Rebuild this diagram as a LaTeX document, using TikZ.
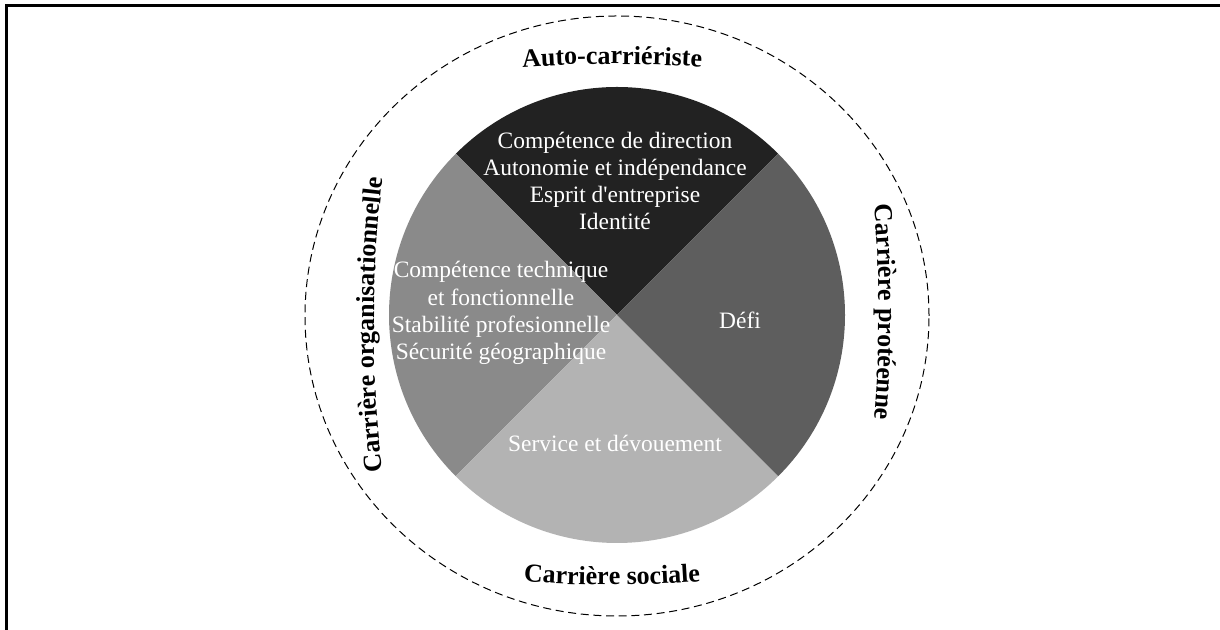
\documentclass[tikz,border=0pt]{standalone}
\usepackage{fontspec}
\setmainfont{Liberation Serif}
\usetikzlibrary{decorations.text}
\definecolor{secTop}{HTML}{222222}
\definecolor{secRight}{HTML}{5E5E5E}
\definecolor{secLeft}{HTML}{8A8A8A}
\definecolor{secBottom}{HTML}{B3B3B3}
\tikzset{
  sectortext/.style={text=white, align=center, inner sep=0pt,
    font=\fontsize{17.6}{20.4}\selectfont},
  arclabel/.style={decorate, decoration={text along path, text align=center,
    text={|\fontsize{19.5}{22}\selectfont\bfseries|#1}}},
  outerring/.style={line width=0.75pt, dash pattern=on 6pt off 3.5pt}
}
\begin{document}
\begin{tikzpicture}[x=0.75pt,y=0.75pt]
\useasboundingbox (0,0) rectangle (1220,630);
\fill[white] (0,0) rectangle (1220,630);
% frame
\draw[line width=2.25pt] (6.5,0) -- (6.5,624.5) -- (1220,624.5);
% outer dashed ring
\draw[outerring] (617,314) ellipse[x radius=312, y radius=300];
% pie sectors
\coordinate (c) at (617,315);
\fill[secTop] (c) -- ++(45:228) arc[start angle=45, end angle=135, radius=228] -- cycle;
\fill[secLeft] (c) -- ++(135:228) arc[start angle=135, end angle=225, radius=228] -- cycle;
\fill[secBottom] (c) -- ++(225:228) arc[start angle=225, end angle=315, radius=228] -- cycle;
\fill[secRight] (c) -- ++(315:228) arc[start angle=315, end angle=405, radius=228] -- cycle;
% sector texts
\node[sectortext] (top) at (615,449) {Compétence de direction\\Autonomie et indépendance\\Esprit d\textquotesingle entreprise\\Identité};
\node[sectortext] (left) at (501,317) {Compétence technique\\et fonctionnelle\\Stabilité profesionnelle\\Sécurité géographique};
\node[sectortext] (right) at (740,310) {Défi};
\node[sectortext] (bottom) at (615,187) {Service et dévouement};
% curved ring labels
\path[arclabel={Auto-carriériste}] (612,-634) ++(98:1200) arc[start angle=98, end angle=82, radius=1200];
\path[arclabel={Carrière sociale}] (612,1245) ++(262:1200) arc[start angle=262, end angle=278, radius=1200];
\path[arclabel={Carrière organisationnelle}] (1574,305) ++(189:1200) arc[start angle=189, end angle=171, radius=1200];
\path[arclabel={Carrière protéenne}] (-321,318) ++(8:1200) arc[start angle=8, end angle=-8, radius=1200];
\end{tikzpicture}
\end{document}
